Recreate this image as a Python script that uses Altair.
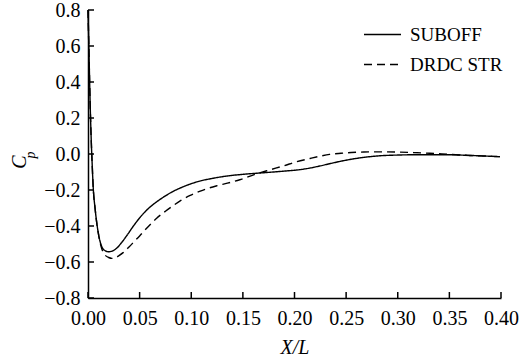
import altair as alt
import pandas as pd

# ---- data ----
sub_x = [0.0, 0.001, 0.002, 0.003, 0.004, 0.005, 0.007, 0.010, 0.013, 0.016, 0.020, 0.024,
         0.028, 0.032, 0.038, 0.044, 0.050, 0.057, 0.065, 0.073, 0.081, 0.089, 0.100, 0.110,
         0.121, 0.135, 0.150, 0.163, 0.175, 0.190, 0.202, 0.215, 0.225, 0.234, 0.245, 0.255,
         0.267, 0.280, 0.299, 0.320, 0.347, 0.370, 0.399]
sub_cp = [0.80, 0.55, 0.30, 0.10, -0.05, -0.18, -0.31, -0.44, -0.51, -0.535, -0.543, -0.538,
          -0.522, -0.496, -0.45, -0.40, -0.355, -0.311, -0.272, -0.24, -0.212, -0.19, -0.165, -0.148,
          -0.135, -0.122, -0.113, -0.107, -0.102, -0.095, -0.089, -0.078, -0.066, -0.054, -0.04, -0.029,
          -0.019, -0.011, -0.006, -0.004, -0.004, -0.008, -0.015]

drdc_x = [0.0, 0.001, 0.002, 0.003, 0.004, 0.005, 0.007, 0.010, 0.013, 0.0165, 0.020, 0.023,
          0.027, 0.030, 0.034, 0.040, 0.045, 0.050, 0.058, 0.0665, 0.075, 0.083, 0.090, 0.099,
          0.108, 0.1165, 0.125, 0.135, 0.147, 0.163, 0.175, 0.190, 0.202, 0.215, 0.225, 0.234,
          0.245, 0.255, 0.267, 0.280, 0.299, 0.315, 0.331, 0.350, 0.370, 0.399]
drdc_cp = [0.80, 0.55, 0.30, 0.10, -0.05, -0.18, -0.31, -0.44, -0.52, -0.561, -0.575, -0.58,
           -0.575, -0.565, -0.548, -0.515, -0.485, -0.455, -0.405, -0.357, -0.318, -0.285, -0.258, -0.23,
           -0.208, -0.19, -0.176, -0.162, -0.143, -0.111, -0.09, -0.065, -0.043, -0.025, -0.012, -0.002,
           0.004, 0.008, 0.011, 0.012, 0.011, 0.008, 0.004, -0.002, -0.008, -0.015]

series_names = ["SUBOFF", "DRDC STR"]
x_ticks = [0.0, 0.05, 0.10, 0.15, 0.20, 0.25, 0.30, 0.35, 0.40]
y_ticks = [-0.8, -0.6, -0.4, -0.2, 0.0, 0.2, 0.4, 0.6, 0.8]

FONT = "Liberation Serif, Times New Roman, serif"
W, H = 413, 288

df = pd.concat([
    pd.DataFrame({"x": sub_x, "cp": sub_cp, "series": series_names[0], "order": range(len(sub_x))}),
    pd.DataFrame({"x": drdc_x, "cp": drdc_cp, "series": series_names[1], "order": range(len(drdc_x))}),
])

xscale = alt.Scale(domain=[0, 0.4], nice=False, zero=False)
yscale = alt.Scale(domain=[-0.8, 0.8], nice=False, zero=False)
xaxis = alt.Axis(values=x_ticks, format=".2f", title="X/L", ticks=False,
                 labelPadding=10, titlePadding=9, grid=False,
                 labelFlush=False, labelOverlap=False, labelBound=False)
yaxis = alt.Axis(values=y_ticks, format=".1f", title=None, ticks=False,
                 labelPadding=8, grid=False,
                 labelFlush=False, labelOverlap=False, labelBound=False)

lines = alt.Chart(df).mark_line(color="black", strokeWidth=1.4, interpolate="monotone").encode(
    x=alt.X("x:Q", scale=xscale, axis=xaxis),
    y=alt.Y("cp:Q", scale=yscale, axis=yaxis),
    strokeDash=alt.StrokeDash("series:N",
                              scale=alt.Scale(domain=series_names, range=[[1, 0], [8, 5]]),
                              legend=alt.Legend(title=None, orient="none", legendX=275, legendY=5,
                                                symbolType="stroke", symbolSize=1369,
                                                symbolStrokeWidth=1.4, symbolStrokeColor="black",
                                                labelFont=FONT, labelFontSize=19, labelColor="black",
                                                labelOffset=8, rowPadding=-11)),
    order="order:Q",
)

xt = alt.Chart(pd.DataFrame({"x": x_ticks})).mark_rule(
    strokeWidth=1.5, color="black"
).encode(x=alt.X("x:Q", scale=xscale, axis=xaxis), y=alt.value(H), y2=alt.value(H - 6))

yt = alt.Chart(pd.DataFrame({"cp": y_ticks})).mark_rule(
    strokeWidth=1.5, color="black"
).encode(y=alt.Y("cp:Q", scale=yscale, axis=yaxis), x=alt.value(0), x2=alt.value(6))

c_title = alt.Chart(pd.DataFrame({"s": ["C"]})).mark_text(
    font=FONT, fontSize=20, fontStyle="italic", angle=270, align="center", baseline="middle", color="black"
).encode(text="s:N", x=alt.value(-68), y=alt.value(152))

p_title = alt.Chart(pd.DataFrame({"s": ["p"]})).mark_text(
    font=FONT, fontSize=14, fontStyle="italic", angle=270, align="center", baseline="middle", color="black"
).encode(text="s:N", x=alt.value(-57), y=alt.value(145))

chart = alt.layer(lines, xt, yt, c_title, p_title).properties(
    width=W, height=H,
    autosize=alt.AutoSizeParams(type="none"),
    padding={"left": 88, "top": 10, "right": 30, "bottom": 66},
    background="white",
).configure_view(stroke=None).configure_axis(
    domainColor="black", domainWidth=1.5,
    labelFont=FONT, labelFontSize=20, labelColor="black",
    titleFont=FONT, titleFontSize=20, titleColor="black", titleFontStyle="italic",
    titleFontWeight="normal",
).configure_legend(labelFont=FONT, labelFontSize=19, labelColor="black")

chart.save("out.html", embed_options={"renderer": "svg", "actions": False})
